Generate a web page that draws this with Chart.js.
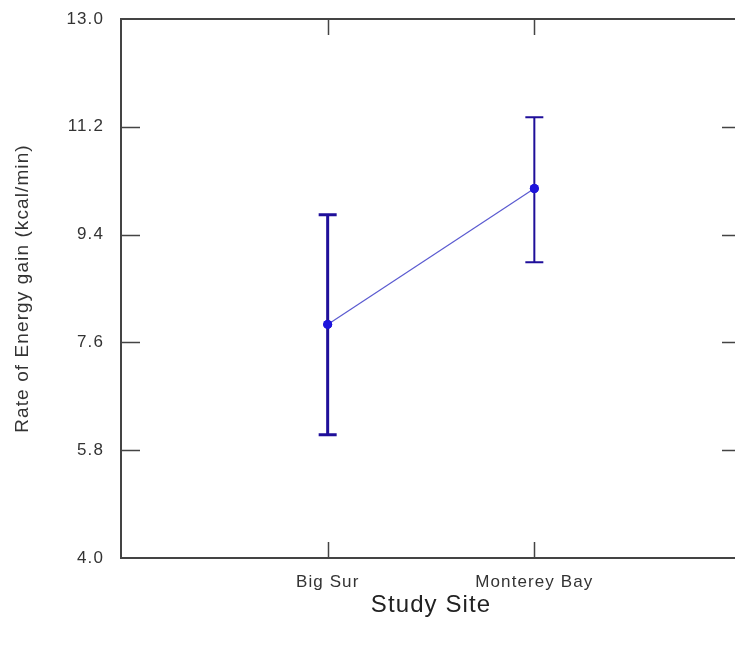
<!DOCTYPE html>
<html>
<head>
<meta charset="utf-8">
<script src="https://cdn.jsdelivr.net/npm/chart.js@4.4.1/dist/chart.umd.min.js"></script>
<style>
  html, body { margin: 0; padding: 0; background: #fff; overflow: hidden; }
  #wrap { width: 760px; height: 652px; position: relative; }
</style>
</head>
<body>
<div id="wrap"><canvas id="c"></canvas></div>
<script>
// ---- data ----
const categories = ["Big Sur", "Monterey Bay"];
const means = [7.90, 10.17];
const errUpper = [9.73, 11.36];
const errLower = [6.06, 8.94];
const yTicks = [4.0, 5.8, 7.6, 9.4, 11.2, 13.0];
const errWidths = [3, 2];

const axisColor = "#444444";
const font = "'Liberation Sans', Arial, sans-serif";

const spacingPlugin = {
  id: "spacing",
  beforeInit(chart) { if ("letterSpacing" in chart.ctx) chart.ctx.letterSpacing = "1.1px"; },
  beforeLayout(chart) { if ("letterSpacing" in chart.ctx) chart.ctx.letterSpacing = "1.1px"; },
  beforeDraw(chart) { if ("letterSpacing" in chart.ctx) chart.ctx.letterSpacing = "1.1px"; }
};

const framePlugin = {
  id: "frame",
  afterDatasetsDraw(chart) {
    const { ctx, chartArea: a, scales: { x, y } } = chart;
    ctx.save();
    // error bars
    ctx.strokeStyle = "#1f0f9a";
    categories.forEach((c, i) => {
      const px = x.getPixelForValue(i + 1);
      const pt = y.getPixelForValue(errUpper[i]);
      const pb = y.getPixelForValue(errLower[i]);
      ctx.lineWidth = errWidths[i];
      ctx.beginPath();
      ctx.moveTo(px, pt); ctx.lineTo(px, pb);
      ctx.moveTo(px - 9, pt); ctx.lineTo(px + 9, pt);
      ctx.moveTo(px - 9, pb); ctx.lineTo(px + 9, pb);
      ctx.stroke();
    });
    // redraw points on top
    ctx.fillStyle = "#1e14dc";
    categories.forEach((c, i) => {
      ctx.beginPath();
      ctx.arc(x.getPixelForValue(i + 1), y.getPixelForValue(means[i]), 4.5, 0, Math.PI * 2);
      ctx.fill();
    });
    // frame
    ctx.strokeStyle = axisColor;
    ctx.lineWidth = 2;
    ctx.strokeRect(a.left, a.top, a.right - a.left, a.bottom - a.top);
    // ticks
    ctx.lineWidth = 1.5;
    ctx.beginPath();
    yTicks.forEach(v => {
      const py = Math.round(y.getPixelForValue(v)) + 0.5;
      if (v === yTicks[0] || v === yTicks[yTicks.length - 1]) return;
      ctx.moveTo(a.left, py); ctx.lineTo(a.left + 19, py);
      ctx.moveTo(a.right, py); ctx.lineTo(a.right - 19, py);
    });
    categories.forEach((c, i) => {
      const px = Math.round(x.getPixelForValue(i + 1)) + 0.5;
      ctx.moveTo(px, a.top); ctx.lineTo(px, a.top + 16);
      ctx.moveTo(px, a.bottom); ctx.lineTo(px, a.bottom - 16);
    });
    ctx.stroke();
    ctx.restore();
  }
};

new Chart(document.getElementById("c"), {
  type: "line",
  data: {
    datasets: [{
      data: categories.map((c, i) => ({ x: i + 1, y: means[i] })),
      borderColor: "#5a5ad0",
      borderWidth: 1.2,
      pointRadius: 4.5,
      pointBackgroundColor: "#1e14dc",
      pointBorderWidth: 0,
      fill: false,
      tension: 0
    }]
  },
  options: {
    responsive: true,
    maintainAspectRatio: false,
    animation: false,
    layout: { padding: { left: 0, top: 19, right: 19, bottom: 0 } },
    plugins: { legend: { display: false }, tooltip: { enabled: false } },
    scales: {
      x: {
        type: "linear",
        min: 0,
        max: 3,
        afterBuildTicks: s => { s.ticks = categories.map((c, i) => ({ value: i + 1 })); },
        afterFit: s => { s.height = 94; s.paddingLeft = 0; s.paddingRight = 0; },
        grid: { display: false, drawTicks: false },
        border: { display: false },
        ticks: {
          padding: 14,
          color: "#333",
          font: { family: font, size: 17 },
          callback: v => categories[v - 1] ?? ""
        },
        title: {
          display: true,
          text: "Study Site",
          color: "#222",
          font: { family: font, size: 24 },
          padding: { top: 0, bottom: 32 }
        }
      },
      y: {
        min: 4,
        max: 13,
        afterBuildTicks: s => { s.ticks = yTicks.map(v => ({ value: v })); },
        afterFit: s => { s.width = 121; s.paddingTop = 0; s.paddingBottom = 0; },
        grid: { display: false, drawTicks: false },
        border: { display: false },
        ticks: {
          padding: 17,
          color: "#333",
          font: { family: font, size: 17 },
          callback: v => Number(v).toFixed(1)
        },
        title: {
          display: true,
          text: "Rate of Energy gain (kcal/min)",
          color: "#333",
          font: { family: font, size: 19 },
          padding: { top: 11, bottom: 0 }
        }
      }
    }
  },
  plugins: [spacingPlugin, framePlugin]
});
</script>
</body>
</html>
